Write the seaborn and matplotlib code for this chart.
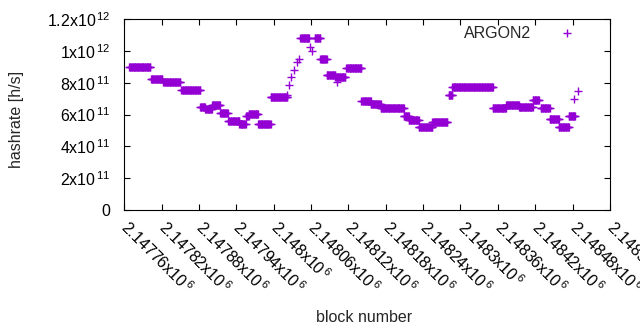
import numpy as np
import pandas as pd
import matplotlib
matplotlib.use('Agg')
import matplotlib.pyplot as plt
import seaborn as sns
from matplotlib.ticker import FuncFormatter, MultipleLocator

# hashrate runs: first block, last block, hashrate (x1e11 h/s)
run_start = [2147768, 2147803, 2147823, 2147852, 2147882, 2147890, 2147901, 2147914,
             2147927, 2147945, 2147956, 2147960, 2147975, 2147995,
             2148022, 2148025, 2148028, 2148032, 2148037, 2148040,
             2148043, 2148059, 2148062, 2148066, 2148075, 2148085, 2148099, 2148101,
             2148117, 2148141, 2148156, 2148172, 2148209, 2148217, 2148233, 2148255,
             2148281, 2148287, 2148352, 2148373, 2148394, 2148416, 2148429, 2148443,
             2148458, 2148474, 2148482, 2148488]
run_end = [2147802, 2147821, 2147850, 2147882, 2147890, 2147901, 2147914, 2147926,
           2147945, 2147955, 2147960, 2147975, 2147995, 2148022,
           2148022, 2148025, 2148028, 2148032, 2148037, 2148040,
           2148057, 2148059, 2148062, 2148075, 2148085, 2148099, 2148115, 2148101,
           2148141, 2148156, 2148172, 2148209, 2148217, 2148233, 2148255, 2148279,
           2148287, 2148352, 2148373, 2148394, 2148416, 2148426, 2148443, 2148458,
           2148474, 2148484, 2148482, 2148488]
run_value = [8.97, 8.25, 8.04, 7.52, 6.50, 6.36, 6.58, 6.09,
             5.57, 5.42, 5.90, 6.05, 5.40, 7.08,
             7.25, 7.83, 8.34, 8.81, 9.28, 9.51,
             10.79, 10.24, 10.0, 10.79, 9.47, 8.46, 8.34, 8.04,
             8.90, 6.83, 6.66, 6.39, 5.89, 5.64, 5.21, 5.55,
             7.22, 7.71, 6.39, 6.58, 6.45, 6.93, 6.41, 5.72,
             5.23, 5.89, 6.97, 7.45]

blocks = []
rates = []
for s, e, v in zip(run_start, run_end, run_value):
    for b in range(s, e + 1):
        blocks.append(b)
        rates.append(v * 1e11)
df = pd.DataFrame({'block': blocks, 'hashrate': rates})

sns.set_style('ticks')
plt.rcParams['font.family'] = ['Liberation Sans', 'DejaVu Sans']
plt.rcParams['mathtext.fontset'] = 'custom'
plt.rcParams['mathtext.rm'] = 'Liberation Sans'
plt.rcParams['mathtext.it'] = 'Liberation Sans'
plt.rcParams['mathtext.default'] = 'regular'

fig = plt.figure(figsize=(6.4, 3.3), dpi=100)
ax = fig.add_axes([0.194, 0.3636, 0.759, 0.5788])

sns.scatterplot(data=df, x='block', y='hashrate', marker='+', color='#9400D3',
                s=36, linewidth=1.0, label='ARGON2', ax=ax)

ax.set_xlim(2147760, 2148540)
ax.set_ylim(0, 1.2e12)
ax.xaxis.set_major_locator(MultipleLocator(60))
ax.yaxis.set_major_locator(MultipleLocator(2e11))


def xfmt(v, pos):
    m = f'{v / 1e6:.5f}'.rstrip('0').rstrip('.')
    return m + r'x10$^{\,6}$'


def yfmt(v, pos):
    if abs(v) < 1:
        return '0'
    if v < 0:
        return ''
    e = int(np.floor(np.log10(v) + 1e-9))
    m = f'{v / 10**e:.1f}'.rstrip('0').rstrip('.')
    return m + 'x10$^{\\,' + str(e) + '}$'


ax.xaxis.set_major_formatter(FuncFormatter(xfmt))
ax.yaxis.set_major_formatter(FuncFormatter(yfmt))

ax.tick_params(direction='in', length=4, width=0.8, top=True, right=True,
               labelsize=11.5, colors='black')
ax.tick_params(axis='y', pad=10)
ax.tick_params(axis='x', pad=10, labelrotation=-45)
plt.setp(ax.get_xticklabels(), ha='left', va='center', rotation_mode='anchor')

for sp in ax.spines.values():
    sp.set_color('black')
    sp.set_linewidth(0.8)

ax.set_xlabel('block number', fontsize=11.5)
ax.set_ylabel('hashrate [h/s]', fontsize=11.5)
ax.xaxis.set_label_coords(0.493, -0.525)
ax.yaxis.set_label_coords(-0.207, 0.476)

ax.legend(loc='upper right', frameon=False, markerfirst=False, fontsize=11.5,
          handlelength=1.0, handletextpad=1.75, borderaxespad=0.2,
          bbox_to_anchor=(0.9485, 1.016))

fig.savefig('out.png', dpi=100)
